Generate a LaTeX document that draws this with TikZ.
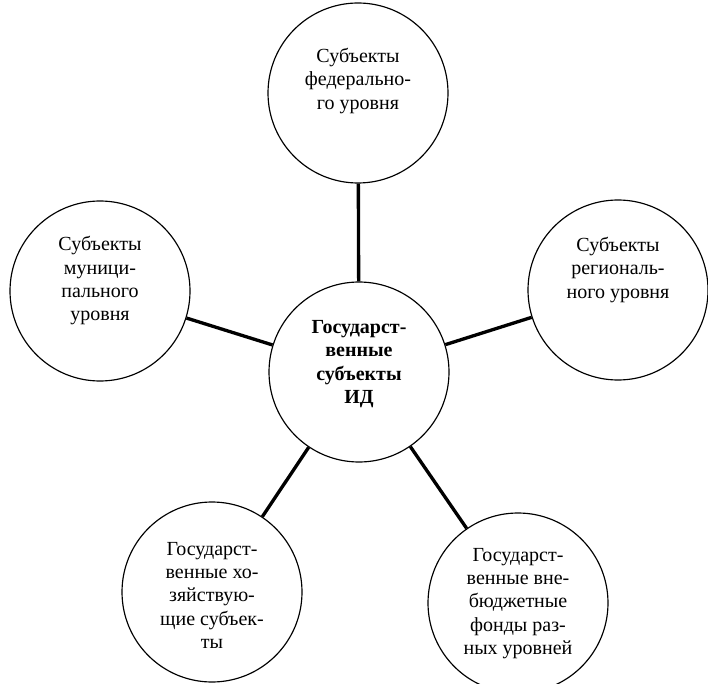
\documentclass[tikz,border=0pt]{standalone}
\usepackage{fontspec}
\setmainfont{Liberation Serif}
\newcommand{\lifttext}[2]{\raisebox{#1}[\height][\depth]{\begin{tabular}{@{}c@{}}#2\end{tabular}}}

\begin{document}
\begin{tikzpicture}[x=0.6pt,y=-0.6pt,
    circ/.style={draw, circle, line width=0.7pt, minimum size=108pt, inner sep=0pt,
        font=\fontsize{12}{14}\selectfont},
    link/.style={line width=2pt}]
\useasboundingbox (0,0) rectangle (708,684);
\node[circ] (hub) at (359,372) {\lifttext{5pt}{\bfseries Государст-\\\bfseries венные\\\bfseries субъекты\\\bfseries ИД}};
\node[circ] (fed) at (358,93) {\lifttext{7pt}{Субъекты\\федерально-\\го уровня}};
\node[circ] (reg) at (618,290) {\lifttext{12pt}{Субъекты\\региональ-\\ного уровня}};
\node[circ] (mun) at (100,291) {\lifttext{6pt}{Субъекты\\муници-\\пального\\уровня}};
\node[circ] (eco) at (212,592) {\lifttext{-3pt}{Государст-\\венные хо-\\зяйствую-\\щие субъек-\\ты}};
\node[circ] (fund) at (518,603) {\lifttext{0pt}{Государст-\\венные вне-\\бюджетные\\фонды раз-\\ных уровней}};
\draw[link] (hub) -- (fed);
\draw[link] (hub) -- (reg);
\draw[link] (hub) -- (mun);
\draw[link] (hub) -- (eco);
\draw[link] (hub) -- (fund);
\end{tikzpicture}
\end{document}
